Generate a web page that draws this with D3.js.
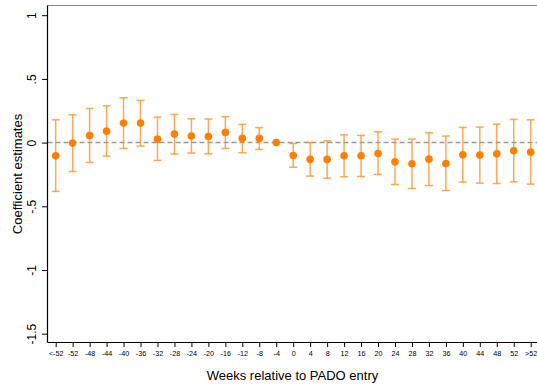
<!DOCTYPE html>
<html>
<head>
<meta charset="utf-8">
<script src="https://cdn.jsdelivr.net/npm/d3@7"></script>
<style>
  html, body { margin: 0; padding: 0; background: #fff; }
  svg { display: block; font-family: "Liberation Sans", Arial, Helvetica, sans-serif; }
</style>
</head>
<body>
<svg id="chart" width="537" height="387"></svg>
<script>
// Event-study periods (weeks relative to PADO entry)
const weeks = ["<-52", "-52", "-48", "-44", "-40", "-36", "-32", "-28", "-24", "-20", "-16", "-12", "-8", "-4",
               "0", "4", "8", "12", "16", "20", "24", "28", "32", "36", "40", "44", "48", "52", ">52"];

// Point estimates
const coef = [-0.104, -0.004, 0.056, 0.090, 0.153, 0.153, 0.027, 0.067, 0.051, 0.048, 0.080, 0.033, 0.033, 0.000,
              -0.101, -0.132, -0.132, -0.103, -0.103, -0.085, -0.151, -0.166, -0.130, -0.164, -0.096, -0.098, -0.088, -0.064, -0.075];

// 95% confidence bounds (reference period -4 has none)
const ciLow = [-0.383, -0.227, -0.156, -0.106, -0.046, -0.027, -0.140, -0.090, -0.082, -0.088, -0.046, -0.080, -0.054, null,
               -0.193, -0.263, -0.279, -0.268, -0.266, -0.250, -0.329, -0.360, -0.337, -0.376, -0.310, -0.318, -0.321, -0.308, -0.326];
const ciHigh = [0.179, 0.218, 0.268, 0.289, 0.352, 0.331, 0.200, 0.221, 0.187, 0.185, 0.203, 0.143, 0.117, null,
                -0.007, 0.001, 0.014, 0.061, 0.056, 0.085, 0.027, 0.027, 0.077, 0.051, 0.119, 0.122, 0.145, 0.182, 0.179];

const yTicks = [1, 0.5, 0, -0.5, -1, -1.5];
const yTickLabels = ["1", ".5", "0", "-.5", "-1", "-1.5"];

const svg = d3.select("#chart");
const plotLeft = 47.5, plotRight = 537, plotTop = 5.5, plotBottom = 342.5;

const x = d3.scalePoint().domain(weeks).range([55.7, 530.7]);
const y = d3.scaleLinear().domain([-1.5, 1]).range([333.7, 15.2]);

// Top frame line
svg.append("line")
  .attr("x1", plotLeft).attr("x2", plotRight).attr("y1", plotTop).attr("y2", plotTop)
  .attr("stroke", "#8a8a8a").attr("stroke-width", 1);

// Zero reference line
svg.append("line")
  .attr("x1", plotLeft).attr("x2", plotRight).attr("y1", y(0)).attr("y2", y(0))
  .attr("stroke", "#9a9a9a").attr("stroke-width", 1.5)
  .attr("stroke-dasharray", "5,3");

// Y axis
const yAxis = svg.append("g").attr("transform", `translate(${plotLeft},0)`)
  .call(d3.axisLeft(y).tickValues(yTicks).tickSize(5.5)
        .tickFormat((d, i) => yTickLabels[i]));
yAxis.select(".domain").attr("d", `M0,${plotTop}V${plotBottom}`).attr("stroke", "#000").attr("stroke-width", 1.2);
yAxis.selectAll(".tick line").attr("stroke", "#000");
yAxis.selectAll(".tick text")
  .attr("x", null).attr("dy", null)
  .attr("transform", "translate(-11.8,0) rotate(-90)")
  .attr("text-anchor", "middle")
  .attr("font-size", 12).attr("fill", "#000")
  .attr("font-family", "'Liberation Sans', Arial, sans-serif");

// X axis
const xAxis = svg.append("g").attr("transform", `translate(0,${plotBottom})`)
  .call(d3.axisBottom(x).tickSize(4.5));
xAxis.select(".domain").attr("d", `M${plotLeft},0H${plotRight}`).attr("stroke", "#000").attr("stroke-width", 1.2);
xAxis.selectAll(".tick line").attr("stroke", "#000");
xAxis.selectAll(".tick text")
  .attr("y", 8.5).attr("dy", "0.71em")
  .attr("font-size", 7.2).attr("fill", "#000")
  .attr("font-family", "'Liberation Sans', Arial, sans-serif");

// Axis titles
svg.append("text")
  .attr("x", 292.5).attr("y", 380)
  .attr("text-anchor", "middle").attr("font-size", 13).attr("fill", "#000")
  .text("Weeks relative to PADO entry");
svg.append("text")
  .attr("transform", "translate(21.5,174) rotate(-90)")
  .attr("text-anchor", "middle").attr("font-size", 13).attr("fill", "#000")
  .text("Coefficient estimates");

// Confidence intervals
const ciData = weeks.map((w, i) => ({ w, lo: ciLow[i], hi: ciHigh[i] })).filter(d => d.lo !== null);
const ci = svg.append("g").attr("stroke", "#ff8c1a").attr("stroke-opacity", 0.75).attr("stroke-width", 1.5);
ci.selectAll("line.bar").data(ciData).join("line").attr("class", "bar")
  .attr("x1", d => x(d.w)).attr("x2", d => x(d.w))
  .attr("y1", d => y(d.hi)).attr("y2", d => y(d.lo));
ci.selectAll("line.capTop").data(ciData).join("line").attr("class", "capTop")
  .attr("x1", d => x(d.w) - 4).attr("x2", d => x(d.w) + 4)
  .attr("y1", d => y(d.hi)).attr("y2", d => y(d.hi));
ci.selectAll("line.capBot").data(ciData).join("line").attr("class", "capBot")
  .attr("x1", d => x(d.w) - 4).attr("x2", d => x(d.w) + 4)
  .attr("y1", d => y(d.lo)).attr("y2", d => y(d.lo));

// Point estimates
svg.append("g").selectAll("circle").data(weeks.map((w, i) => ({ w, v: coef[i] }))).join("circle")
  .attr("cx", d => x(d.w)).attr("cy", d => y(d.v)).attr("r", 3.8)
  .attr("fill", "#ff8000");
</script>
</body>
</html>
